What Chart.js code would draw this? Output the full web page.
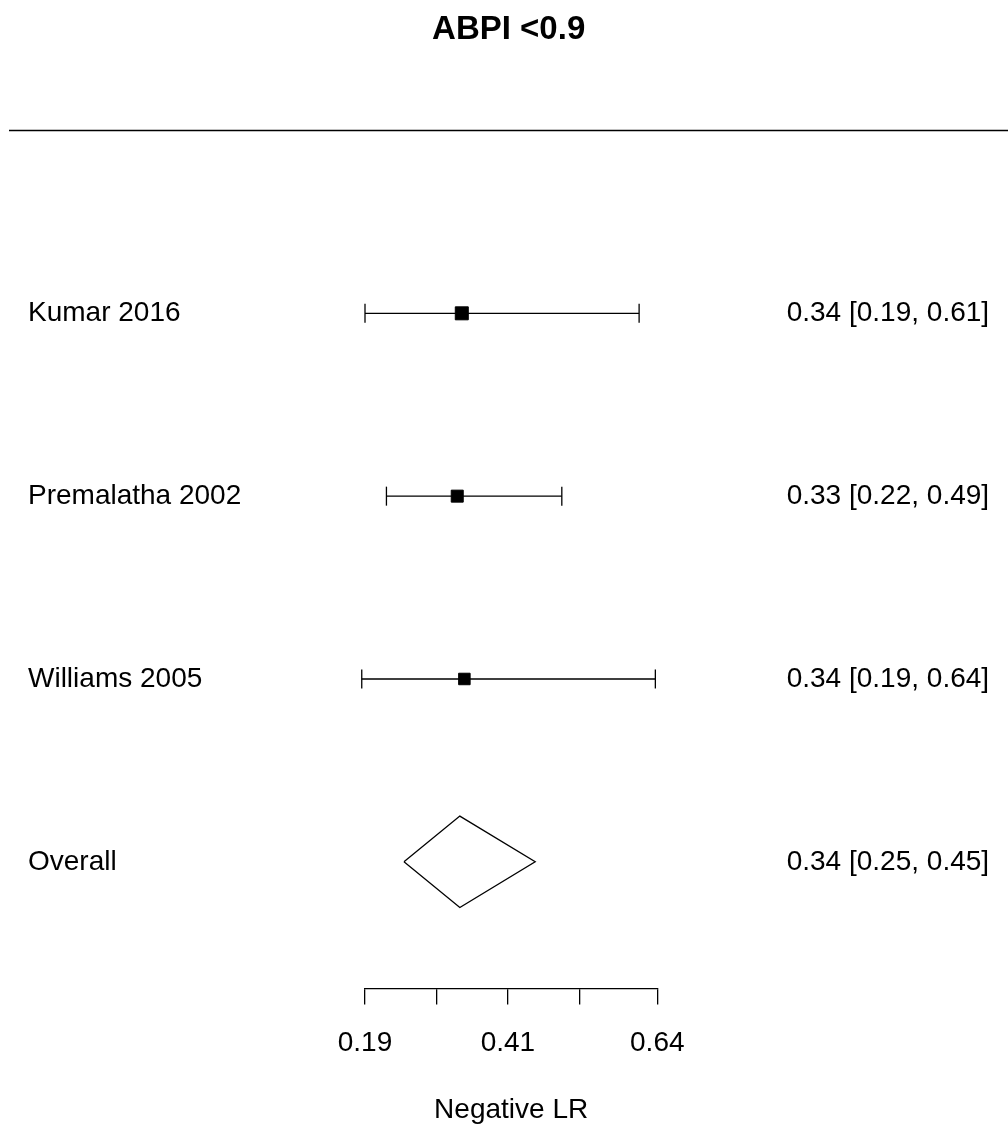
<!DOCTYPE html>
<html>
<head>
<meta charset="utf-8">
<script src="https://cdn.jsdelivr.net/npm/chart.js@4"></script>
<style>
  html, body { margin: 0; padding: 0; background: #ffffff; }
  #wrap { width: 1008px; height: 1128px; }
</style>
</head>
<body>
<div id="wrap"><canvas id="c" width="1008" height="1128"></canvas></div>
<script>
// ---- data ----
const chartTitle = "ABPI <0.9";
const studies = ["Kumar 2016", "Premalatha 2002", "Williams 2005"];
const estimates = [0.339, 0.332, 0.343];
const lowerCI = [0.190, 0.223, 0.185];
const upperCI = [0.612, 0.493, 0.637];
const studyCiLabels = ["0.34 [0.19, 0.61]", "0.33 [0.22, 0.49]", "0.34 [0.19, 0.64]"];
const overallLabel = "Overall";
const overallEstimate = [0.336];
const overallLower = [0.250];
const overallUpper = [0.452];
const overallCiLabel = "0.34 [0.25, 0.45]";
const xTickValues = [0.19, 0.30, 0.41, 0.52, 0.64];
const xTickLabels = ["0.19", "", "0.41", "", "0.64"];
const xAxisTitle = "Negative LR";

// ---- styles ----
const FONT = "'Liberation Sans', Arial, Helvetica, sans-serif";
const squareSides = [14, 13, 12.5];      // px, marker size per study
const capHalf = 9.5;                      // px
const diamondHalfHeight = 0.25;           // in row units
const LW = 1.3;

// rows: studies from top, overall at bottom
const rowLabels = [...studies, overallLabel];
const rightLabels = [...studyCiLabels, overallCiLabel];
const nRows = rowLabels.length;
const rowValue = i => nRows - i;          // 4,3,2,1
const rowValues = rowLabels.map((_, i) => rowValue(i));

// CI segments (with gaps between studies)
const ciData = [];
studies.forEach((s, i) => {
  ciData.push({x: lowerCI[i], y: rowValue(i)});
  ciData.push({x: upperCI[i], y: rowValue(i)});
  if (i < studies.length - 1) ciData.push({x: null, y: null});
});
const pointData = studies.map((s, i) => ({x: estimates[i], y: rowValue(i)}));
const oy = rowValue(nRows - 1);
const diamondData = [
  {x: overallLower[0], y: oy},
  {x: overallEstimate[0], y: oy + diamondHalfHeight},
  {x: overallUpper[0], y: oy},
  {x: overallEstimate[0], y: oy - diamondHalfHeight},
  {x: overallLower[0], y: oy}
];

const topRulePlugin = {
  id: 'topRule',
  afterDraw(chart) {
    const ctx = chart.ctx;
    const y = chart.scales.y.getPixelForValue(nRows + 1);
    ctx.save();
    ctx.strokeStyle = '#000';
    ctx.lineWidth = LW;
    ctx.beginPath();
    ctx.moveTo(9, y);
    ctx.lineTo(chart.width, y);
    ctx.stroke();
    ctx.restore();
  }
};

const noPad = s => { s.paddingTop = 0; s.paddingBottom = 0; s.paddingLeft = 0; s.paddingRight = 0; };

const yMin = 0.307, yMax = nRows + 1;

new Chart(document.getElementById('c'), {
  type: 'line',
  data: {
    datasets: [
      {
        label: 'CI',
        data: ciData,
        borderColor: '#000',
        borderWidth: LW,
        spanGaps: false,
        pointStyle: 'line',
        pointRotation: 90,
        pointRadius: capHalf,
        pointBorderColor: '#000',
        pointBorderWidth: LW,
        fill: false,
        clip: false,
        tension: 0
      },
      {
        label: 'Estimate',
        data: pointData,
        showLine: false,
        pointStyle: 'rect',
        pointRadius: squareSides.map(s => (s - 1) / Math.SQRT2),
        pointBackgroundColor: '#000',
        pointBorderColor: '#000',
        pointBorderWidth: 1,
        clip: false
      },
      {
        label: 'Overall',
        data: diamondData,
        borderColor: '#000',
        borderWidth: LW,
        pointRadius: 0,
        fill: false,
        tension: 0,
        clip: false
      }
    ]
  },
  options: {
    responsive: false,
    devicePixelRatio: 1,
    animation: false,
    events: [],
    layout: { padding: { left: 28, right: 18.7, top: 0, bottom: 0 } },
    plugins: {
      legend: { display: false },
      tooltip: { enabled: false },
      title: {
        display: true,
        text: chartTitle,
        color: '#000',
        font: { family: FONT, size: 33, weight: 'bold' },
        padding: { top: 10.5, bottom: 80.4 }
      }
    },
    scales: {
      x: {
        type: 'linear',
        position: 'bottom',
        min: xTickValues[0],
        max: xTickValues[xTickValues.length - 1],
        bounds: 'data',
        afterBuildTicks: s => { s.ticks = xTickValues.map(v => ({value: v})); },
        afterFit: s => { s.height = 139.5; noPad(s); },
        grid: {
          display: true,
          drawOnChartArea: false,
          drawTicks: true,
          tickLength: 16,
          color: '#000',
          lineWidth: LW
        },
        border: { display: true, color: '#000', width: LW },
        ticks: {
          autoSkip: false,
          maxRotation: 0,
          minRotation: 0,
          padding: 22.4,
          color: '#000',
          font: { family: FONT, size: 28 },
          callback: (v, i) => xTickLabels[i]
        },
        title: {
          display: true,
          text: xAxisTitle,
          color: '#000',
          font: { family: FONT, size: 28 },
          padding: { top: 0, bottom: 0.5 }
        }
      },
      y: {
        type: 'linear',
        position: 'left',
        min: yMin,
        max: yMax,
        bounds: 'data',
        afterBuildTicks: s => { s.ticks = rowValues.map(v => ({value: v})); },
        afterFit: s => { s.width = 337; noPad(s); },
        grid: { display: false, drawTicks: false },
        border: { display: false },
        ticks: {
          crossAlign: 'far',
          padding: 0,
          color: '#000',
          font: { family: FONT, size: 28 },
          callback: v => rowLabels[nRows - v]
        }
      },
      y2: {
        type: 'linear',
        position: 'right',
        min: yMin,
        max: yMax,
        bounds: 'data',
        afterBuildTicks: s => { s.ticks = rowValues.map(v => ({value: v})); },
        afterFit: s => { s.width = 332; noPad(s); },
        grid: { display: false, drawTicks: false },
        border: { display: false },
        ticks: {
          crossAlign: 'near',
          padding: 129.4,
          color: '#000',
          font: { family: FONT, size: 28 },
          callback: v => rightLabels[nRows - v]
        }
      }
    }
  },
  plugins: [topRulePlugin]
});
</script>
</body>
</html>
